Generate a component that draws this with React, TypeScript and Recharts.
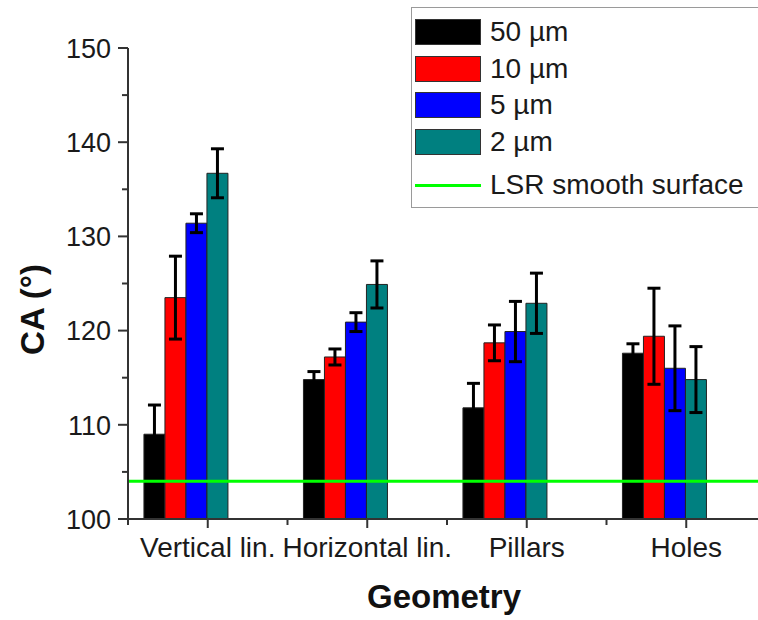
import React from "react";
import {
  BarChart,
  Bar,
  XAxis,
  YAxis,
  ErrorBar,
  ReferenceLine,
  Label,
} from "recharts";

const geometries = ["Vertical lin.", "Horizontal lin.", "Pillars", "Holes"];

// contact angle means and std. deviations per feature size
const ca50 = [109.0, 114.8, 111.8, 117.6];
const err50 = [3.1, 0.85, 2.6, 1.0];
const ca10 = [123.5, 117.2, 118.7, 119.4];
const err10 = [4.4, 0.85, 1.9, 5.1];
const ca5 = [131.4, 120.9, 119.9, 116.0];
const err5 = [1.0, 1.0, 3.2, 4.5];
const ca2 = [136.7, 124.9, 122.9, 114.8];
const err2 = [2.6, 2.5, 3.2, 3.5];
// two unused columns in the source sheet, they still take a slot in each group
const spareA = [null, null, null, null];
const spareB = [null, null, null, null];

const smoothSurfaceCA = 104;

const yTicks = [100, 105, 110, 115, 120, 125, 130, 135, 140, 145, 150];

const series = [
  { key: "ca50", err: "err50", name: "50 µm", color: "#000000" },
  { key: "ca10", err: "err10", name: "10 µm", color: "#ff0000" },
  { key: "ca5", err: "err5", name: "5 µm", color: "#0000ff" },
  { key: "ca2", err: "err2", name: "2 µm", color: "#008080" },
];

const data = geometries.map((g, i) => ({
  geometry: g,
  ca50: ca50[i],
  err50: err50[i],
  ca10: ca10[i],
  err10: err10[i],
  ca5: ca5[i],
  err5: err5[i],
  ca2: ca2[i],
  err2: err2[i],
  spareA: spareA[i],
  spareB: spareB[i],
}));

const FONT = "'Liberation Sans', Arial, Helvetica, sans-serif";
const AXIS = "#333333";

const CHART_W = 790;
const CHART_H = 620;
const MARGIN = { top: 48, right: 24, bottom: 0, left: 0 };
const Y_AXIS_W = 128;
const X_AXIS_H = 101;
// width of one category band, used to put minor ticks on group boundaries
const BAND = (CHART_W - MARGIN.left - MARGIN.right - Y_AXIS_W) / geometries.length;

const XTick = (props: any) => {
  const { x, y, payload, index } = props;
  const half = BAND / 2;
  const last = index === geometries.length - 1;
  return (
    <g>
      <line x1={x} y1={y} x2={x} y2={y + 9} stroke={AXIS} strokeWidth={2} />
      <line x1={x - half} y1={y} x2={x - half} y2={y + 6} stroke={AXIS} strokeWidth={2} />
      {last && (
        <line x1={x + half} y1={y} x2={x + half} y2={y + 6} stroke={AXIS} strokeWidth={2} />
      )}
      <text
        x={x}
        y={y + 38}
        textAnchor="middle"
        fontSize={28}
        fontFamily={FONT}
        fill="#1a1a1a"
      >
        {payload.value}
      </text>
    </g>
  );
};

const YTick = (props: any) => {
  const { x, y, payload } = props;
  const major = payload.value % 10 === 0;
  return (
    <g>
      <line x1={x - (major ? 10 : 6)} y1={y} x2={x} y2={y} stroke={AXIS} strokeWidth={2} />
      {major && (
        <text
          x={x - 17}
          y={y}
          dy="0.36em"
          textAnchor="end"
          fontSize={27}
          fontFamily={FONT}
          fill="#1a1a1a"
        >
          {payload.value}
        </text>
      )}
    </g>
  );
};

const Legend = () => (
  <div
    style={{
      position: "absolute",
      left: 411,
      top: 7,
      width: 370,
      height: 199,
      border: "1.5px solid #9a9a9a",
      background: "#fff",
      fontFamily: FONT,
      fontSize: 28,
      color: "#1a1a1a",
    }}
  >
    {series.map((s, i) => (
      <div
        key={s.key}
        style={{ position: "absolute", left: 3, top: 11 + i * 36.7, height: 26, display: "flex", alignItems: "center" }}
      >
        <div style={{ width: 64, height: 24, background: s.color, border: "1px solid #333" }} />
        <span style={{ marginLeft: 9, lineHeight: "26px" }}>{s.name}</span>
      </div>
    ))}
    <div style={{ position: "absolute", left: 3, top: 164, height: 26, display: "flex", alignItems: "center" }}>
      <div style={{ width: 66, height: 3, background: "#00ff00" }} />
      <span style={{ marginLeft: 9, lineHeight: "26px" }}>LSR smooth surface</span>
    </div>
  </div>
);

export default function App() {
  return (
    <div
      style={{
        position: "fixed",
        left: 0,
        top: 0,
        width: 758,
        height: 620,
        overflow: "hidden",
        background: "#fff",
      }}
    >
      <BarChart
        width={CHART_W}
        height={CHART_H}
        data={data}
        margin={MARGIN}
        barGap={0}
        barCategoryGap="10%"
      >
        <XAxis
          dataKey="geometry"
          height={X_AXIS_H}
          interval={0}
          tickLine={false}
          tickSize={0}
          tickMargin={0}
          tick={<XTick />}
          axisLine={{ stroke: AXIS, strokeWidth: 2 }}
        >
          <Label
            content={(p: any) => {
              const vb = p.viewBox;
              return (
                <text
                  x={vb.x + vb.width / 2 - 3}
                  y={608}
                  textAnchor="middle"
                  fontSize={33}
                  fontWeight="bold"
                  fontFamily={FONT}
                  fill="#111"
                >
                  Geometry
                </text>
              );
            }}
          />
        </XAxis>
        <YAxis
          type="number"
          domain={[100, 150]}
          ticks={yTicks}
          interval={0}
          width={Y_AXIS_W}
          tickLine={false}
          tickSize={0}
          tickMargin={0}
          tick={<YTick />}
          axisLine={{ stroke: AXIS, strokeWidth: 2 }}
        >
          <Label
            content={(p: any) => {
              const vb = p.viewBox;
              const cx = 32;
              const cy = vb.y + vb.height / 2 + 26;
              return (
                <text
                  x={cx}
                  y={cy}
                  dy="0.35em"
                  transform={`rotate(-90, ${cx}, ${cy})`}
                  textAnchor="middle"
                  fontSize={33}
                  fontWeight="bold"
                  fontFamily={FONT}
                  fill="#111"
                >
                  CA (°)
                </text>
              );
            }}
          />
        </YAxis>
        {series.map((s) => (
          <Bar
            key={s.key}
            dataKey={s.key}
            name={s.name}
            fill={s.color}
            stroke="#222"
            strokeWidth={1}
            isAnimationActive={false}
          >
            <ErrorBar dataKey={s.err} width={6.5} stroke="#000" strokeWidth={3} direction="y" />
          </Bar>
        ))}
        <Bar dataKey="spareA" fill="#800080" isAnimationActive={false} />
        <Bar dataKey="spareB" fill="#808000" isAnimationActive={false} />
        <ReferenceLine
          y={smoothSurfaceCA}
          stroke="#00ff00"
          strokeWidth={3}
          ifOverflow="extendDomain"
        />
      </BarChart>
      <Legend />
    </div>
  );
}
